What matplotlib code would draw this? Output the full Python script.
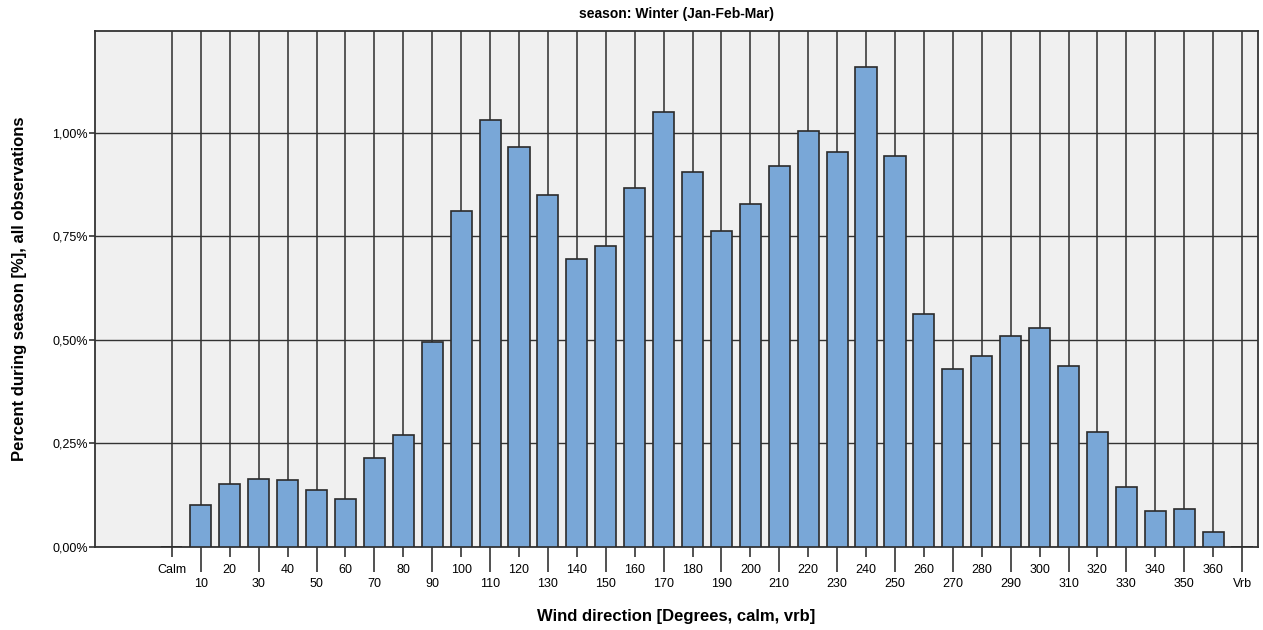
import numpy as np
import matplotlib
matplotlib.use('Agg')
import matplotlib.pyplot as plt

plt.rcParams['font.family'] = ['Liberation Sans', 'DejaVu Sans']

# wind direction categories and percent of observations (winter)
CATEGORIES = ['Calm'] + [str(d) for d in range(10, 361, 10)] + ['Vrb']
PERCENTS = [0.0,
            0.101, 0.152, 0.164, 0.162, 0.138, 0.116, 0.215, 0.270, 0.495,
            0.812, 1.031, 0.966, 0.850, 0.696, 0.727, 0.867, 1.051, 0.906,
            0.763, 0.829, 0.920, 1.005, 0.954, 1.159, 0.944, 0.563, 0.430,
            0.461, 0.510, 0.529, 0.437, 0.278, 0.145, 0.087, 0.092, 0.036,
            0.0]
Y_TICKS = [0.0, 0.25, 0.5, 0.75, 1.0]
Y_TICK_LABELS = ['0,00%', '0,25%', '0,50%', '0,75%', '1,00%']

BG_COLOR = '#F0F0F0'
BAR_COLOR = '#79A7D7'
EDGE_COLOR = '#2B2B2B'
GRID_COLOR = '#4A4A4A'


def main():
    fig = plt.figure(figsize=(12.63, 6.30), dpi=100)
    ax = fig.add_axes([0.0752, 0.1317, 0.9208, 0.8191])
    ax.set_facecolor(BG_COLOR)

    x = np.arange(len(CATEGORIES))
    ax.bar(x, PERCENTS, width=0.73, color=BAR_COLOR, edgecolor=EDGE_COLOR,
           linewidth=1.2, zorder=3)

    ax.set_xlim(-2.66, len(CATEGORIES) - 0.45)
    ax.set_ylim(0, 1.246)

    even = x[::2]
    odd = x[1::2]
    ax.set_xticks(even, [CATEGORIES[i] for i in even])
    ax.set_xticks(odd, [CATEGORIES[i] for i in odd], minor=True)
    ax.tick_params(axis='x', which='major', length=7, width=1.2, pad=5,
                   labelsize=9, color='#333333')
    ax.tick_params(axis='x', which='minor', length=18, width=1.2, pad=4,
                   labelsize=9, color='#333333')

    ax.set_yticks(Y_TICKS, Y_TICK_LABELS)
    ax.tick_params(axis='y', length=4, width=1.2, pad=1, labelsize=9,
                   color='#333333')

    ax.grid(which='both', axis='x', color=GRID_COLOR, linewidth=1.3, zorder=1)
    ax.grid(which='major', axis='y', color='#333333', linewidth=1.0, zorder=1)
    ax.set_axisbelow(True)

    for side in ['left', 'right', 'top', 'bottom']:
        ax.spines[side].set_color('#333333')
        ax.spines[side].set_linewidth(1.3)

    ax.set_title('season: Winter (Jan-Feb-Mar)', fontsize=10, fontweight='bold', pad=9)
    ax.set_xlabel('Wind direction [Degrees, calm, vrb]', fontsize=12,
                  fontweight='bold', labelpad=14)
    ax.set_ylabel('Percent during season [%], all observations', fontsize=12,
                  fontweight='bold', labelpad=18)

    fig.savefig('out.png', dpi=100, facecolor='white')


if __name__ == '__main__':
    main()
